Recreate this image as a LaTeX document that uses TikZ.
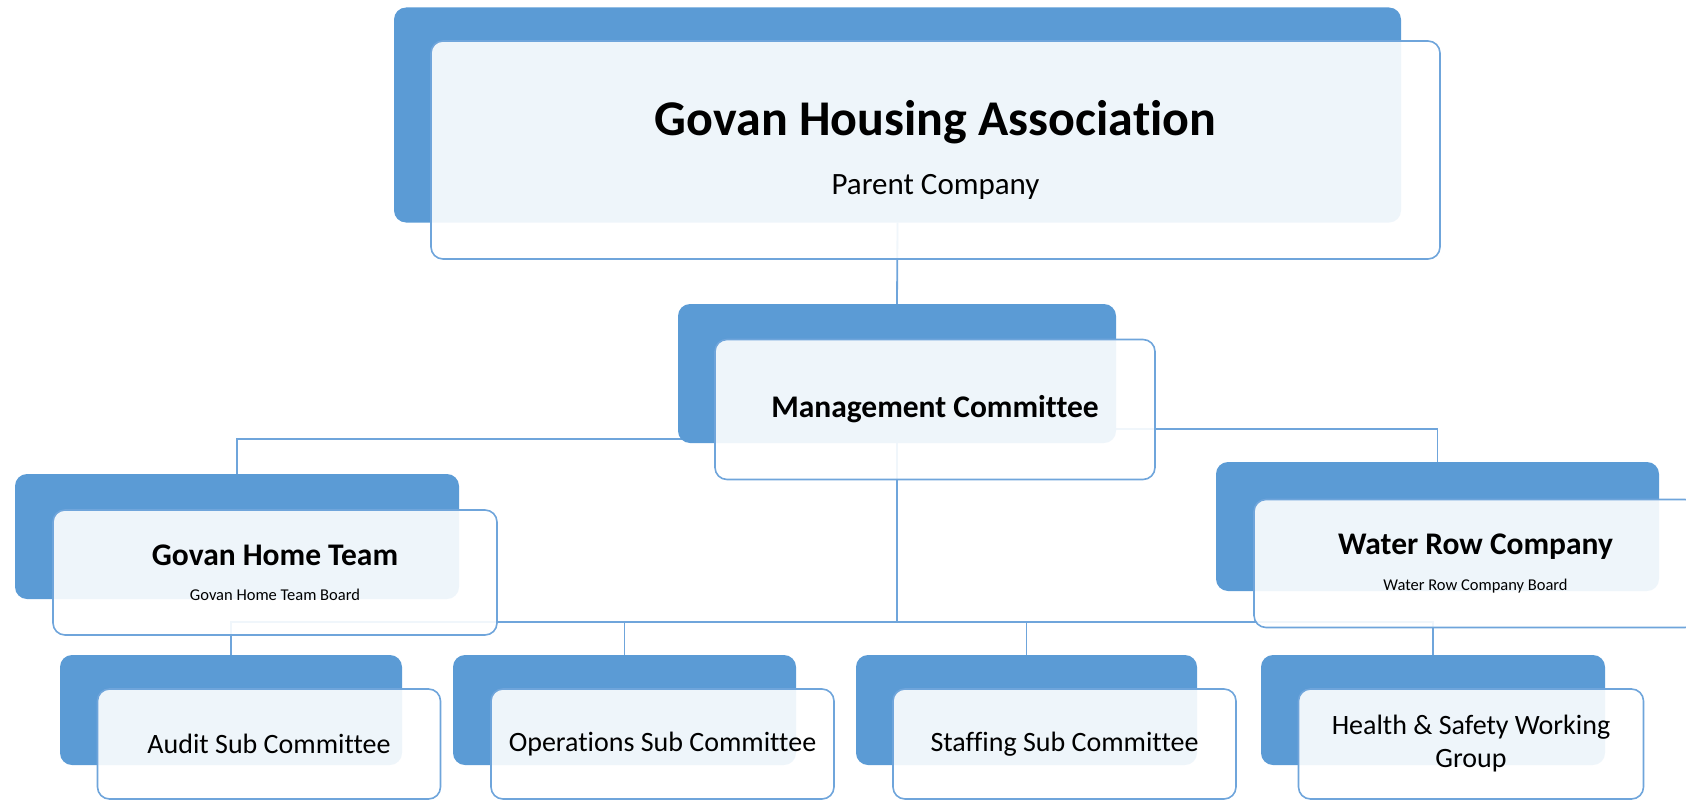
\documentclass[tikz,border=0pt]{standalone}
\usepackage{fontspec}
\setmainfont{Carlito}[Ligatures=NoCommon]
\usetikzlibrary{backgrounds}
\definecolor{board}{HTML}{5B9BD5}
\definecolor{edge}{HTML}{6FA5DB}
\newcommand\boardfont{\mdseries\fontsize{16.5}{20}\selectfont}

\begin{document}
\begin{tikzpicture}[
  x=1pt, y=-1pt,
  back/.style={fill=board, rounded corners=12pt, minimum width=#1, inner sep=0pt},
  card/.style={draw=edge, line width=1.6pt, fill=white, fill opacity=0.9, text opacity=1,
    rounded corners=12pt, align=center, inner sep=0pt},
  head/.style={font=\fontsize{31.5}{38}\selectfont\bfseries},
  sub/.style={font=\fontsize{28}{33}\selectfont},
  link/.style={draw=edge, line width=1.8pt}
]
  \useasboundingbox (0,0) rectangle (1686,800);

  % blue backing tiles
  \node[back=1007pt, minimum height=215pt] (parent) at (897.5,115) {};
  \node[back=438pt, minimum height=139pt] (mgmt) at (897,373.5) {};
  \node[back=444pt, minimum height=125pt] (hometeam) at (237,536.5) {};
  \node[back=443pt, minimum height=129pt] (waterrow) at (1437.5,526.5) {};
  \node[back=342pt, minimum height=110pt] (audit) at (231,710) {};
  \node[back=343pt, minimum height=110pt] (ops) at (624.5,710) {};
  \node[back=341pt, minimum height=110pt] (staff) at (1026.5,710) {};
  \node[back=344pt, minimum height=110pt] (safety) at (1433,710) {};

  % connectors sit behind everything
  \begin{scope}[on background layer]
    \draw[link] (parent.south) -- (mgmt.north);
    \draw[link] ([yshift=4pt]mgmt.south) -| (hometeam.north);
    \draw[link] ([yshift=14pt]mgmt.south) -| (waterrow.north);
    \draw[link] (mgmt.south) -- ++(0,178.5) coordinate (bus);
    \foreach \n in {audit,ops,staff,safety}
      \draw[link] (bus) -| (\n.north);
  \end{scope}

  % front cards
  \node[card, minimum width=1009pt, minimum height=218pt] (parentcard) at ([shift={(38pt,-35pt)}]parent.center)
    {{\fontsize{50}{60}\selectfont\bfseries Govan Housing Association}\\[30pt]
     {\fontsize{31}{37}\selectfont Parent Company}};
  \node[card, head, minimum width=440pt, minimum height=140pt] (mgmtcard) at ([shift={(38pt,-36pt)}]mgmt.center)
    {Management Committee};
  \node[card, head, minimum width=444pt, minimum height=125pt] (hometeamcard) at ([shift={(38pt,-36pt)}]hometeam.center)
    {Govan Home Team\\[-3pt]{\boardfont Govan Home Team Board}};
  \node[card, head, minimum width=443pt, minimum height=128pt] (waterrowcard) at ([shift={(38pt,-37pt)}]waterrow.center)
    {Water Row Company\\[-2.5pt]{\boardfont Water Row Company Board}};
  \node[card, sub, minimum width=343pt, minimum height=110pt] (auditcard) at ([shift={(38pt,-34pt)}]audit.center)
    {Audit Sub Committee};
  \node[card, sub, minimum width=343pt, minimum height=110pt] (opscard) at ([shift={(38pt,-34pt)}]ops.center)
    {Operations Sub Committee};
  \node[card, sub, minimum width=343pt, minimum height=110pt] (staffcard) at ([shift={(38pt,-34pt)}]staff.center)
    {Staffing Sub Committee};
  \node[card, sub, minimum width=345pt, minimum height=110pt] (safetycard) at ([shift={(38pt,-34pt)}]safety.center)
    {Health \& Safety Working\\Group};
\end{tikzpicture}
\end{document}
